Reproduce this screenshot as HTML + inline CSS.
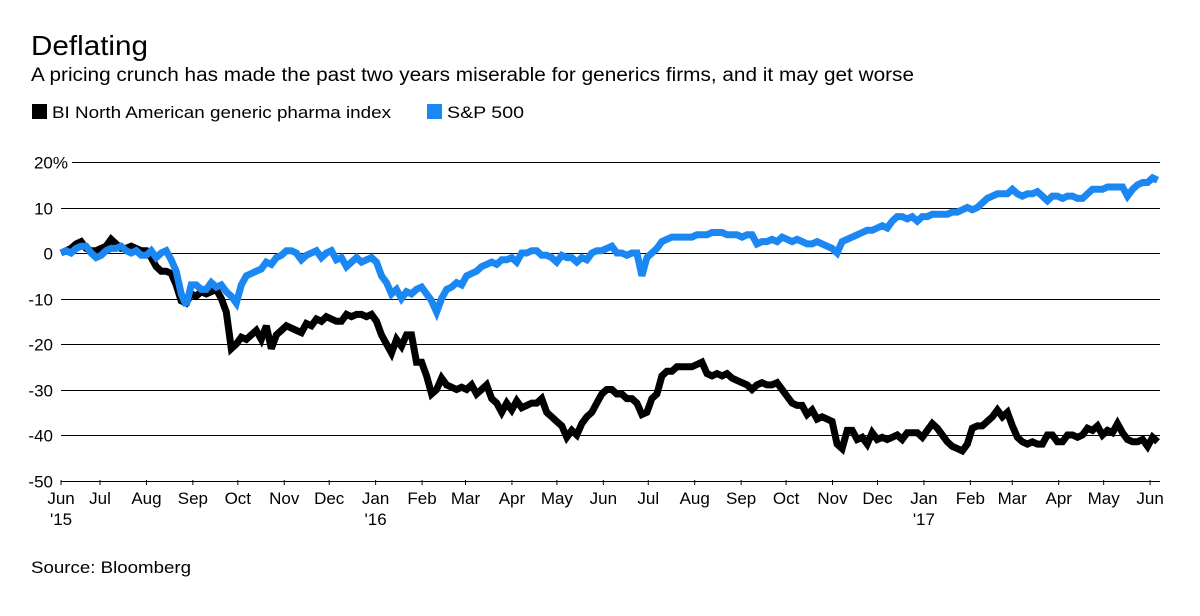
<!DOCTYPE html>
<html><head><meta charset="utf-8"><style>
body{margin:0;background:#fff;font-family:"Liberation Sans",sans-serif;}
svg text{font-family:"Liberation Sans",sans-serif;}
</style></head><body>
<svg id="chart" width="1200" height="611" viewBox="0 0 1200 611">
<text x="31" y="55" font-size="28" fill="#000" textLength="117" lengthAdjust="spacingAndGlyphs">Deflating</text>
<text x="31" y="81" font-size="19" fill="#000" textLength="883" lengthAdjust="spacingAndGlyphs">A pricing crunch has made the past two years miserable for generics firms, and it may get worse</text>
<g>
<rect x="32" y="104" width="15" height="15" fill="#000"/>
<text x="52" y="118" font-size="17" textLength="339" lengthAdjust="spacingAndGlyphs">BI North American generic pharma index</text>
<rect x="427" y="104" width="15" height="15" fill="#1b87f2"/>
<text x="447" y="118" font-size="17" textLength="77" lengthAdjust="spacingAndGlyphs">S&amp;P 500</text>
</g>
<g id="grid"></g><g id="series"></g><g id="xaxis"></g>
<text x="31" y="573" font-size="17" textLength="160" lengthAdjust="spacingAndGlyphs">Source: Bloomberg</text>
</svg>
<script>
const yTicks = [20, 10, 0, -10, -20, -30, -40, -50];
const yTickLabels = ["20%", "10", "0", "-10", "-20", "-30", "-40", "-50"];
const monthLabels = ["Jul","Aug","Sep","Oct","Nov","Dec","Jan","Feb","Mar","Apr","May","Jun","Jul","Aug","Sep","Oct","Nov","Dec","Jan","Feb","Mar","Apr","May","Jun"];
const startDate = "2015-06-05";
const endDate = "2017-06-06";
const pharma = [0,0.5,1,2,2.5,1,0.5,0.5,1,1.5,3,2,1,1,1.5,1,0.5,0.5,-1,-3,-4,-4,-4.5,-7,-10.5,-11,-9,-9.5,-8.5,-9,-8.5,-8,-10,-13,-21,-20,-18.5,-19,-18,-17,-19,-16,-21,-18,-17,-16,-16.5,-17,-17.5,-15.5,-16,-14.5,-15,-14,-14.5,-15,-15,-13.5,-14,-13.5,-13.5,-14,-13.5,-15,-18,-20,-22,-19,-20.5,-18,-18,-24,-24,-27,-31,-30,-27.5,-29,-29.5,-30,-29.5,-30,-29,-31,-30,-29,-32,-33,-35,-33,-34.5,-32.5,-34,-33.5,-33,-33,-32,-35,-36,-37,-38,-40.5,-39,-40,-37.5,-36,-35,-33,-31,-30,-30,-31,-31,-32,-32,-33,-35.5,-35,-32,-31,-27,-26,-26,-25,-25,-25,-25,-24.5,-24,-26.5,-27,-26.5,-27,-26.5,-27.5,-28,-28.5,-29,-30,-29,-28.5,-29,-29,-28.5,-30,-31.5,-33,-33.5,-33.5,-35.5,-34.5,-36.5,-36,-36.5,-37,-42,-43,-39,-39,-41,-40.5,-42,-39.5,-41,-40.5,-41,-40.5,-40,-41,-39.5,-39.5,-39.5,-40.5,-39,-37.5,-38.5,-40,-41.5,-42.5,-43,-43.5,-42,-38.5,-38,-38,-37,-36,-34.5,-36,-35,-38,-40.5,-41.5,-42,-41.5,-42,-42,-40,-40,-41.5,-41.5,-40,-40,-40.5,-40,-38.5,-39,-38,-40,-39,-39.5,-37.5,-39.5,-41,-41.5,-41.5,-41,-42.5,-40.5,-41.5];
const sp500 = [0,0.5,0,1,1.5,1.5,0,-1,-0.5,0.5,1,1,1.5,0.5,0,0.5,-0.5,-0.5,0.5,-1,0,0.5,-1.5,-4,-9,-11.5,-7,-7,-8,-8,-6.5,-7.5,-7,-8.5,-9.5,-11,-7,-5,-4.5,-4,-3.5,-2,-2.5,-1,-0.5,0.5,0.5,0,-1.5,-0.5,0,0.5,-1,0,0.5,-1.5,-1,-3,-2,-1,-2,-1.5,-1,-2,-5,-6.5,-9,-8,-10,-8.5,-9,-8,-7.5,-9,-10.5,-13,-10,-8,-7.5,-6.5,-7,-5,-4.5,-4,-3,-2.5,-2,-2.5,-1.5,-1.5,-1,-2,0,0,0.5,0.5,-0.5,-0.5,-1,-2,-0.5,-1,-1,-2,-1,-1.5,0,0.5,0.5,1,1.5,0,0,-0.5,0,0,-5,-1,0,1,2.5,3,3.5,3.5,3.5,3.5,3.5,4,4,4,4.5,4.5,4.5,4,4,4,3.5,4,4,2,2.5,2.5,3,2.5,3.5,3,2.5,3,2.5,2,2,2.5,2,1.5,1,0,2.5,3,3.5,4,4.5,5,5,5.5,6,5.5,7,8,8,7.5,8,7,8,8,8.5,8.5,8.5,8.5,9,9,9.5,10,9.5,10,11,12,12.5,13,13,13,14,13,12.5,13,13,13.5,12.5,11.5,12.5,12.5,12,12.5,12.5,12,12,13,14,14,14,14.5,14.5,14.5,14.5,12.5,14,15,15.5,15.5,16.5,16];

const NS = "http://www.w3.org/2000/svg";
const DAY = 86400000;
const refDate = Date.UTC(2015, 6, 1);
function xScale(t){ return 100 + (t - refDate) / DAY * 1.498; }
function yScale(v){ return 253 - v * 4.55; }
function mk(tag, attrs, parent){ const e = document.createElementNS(NS, tag); for (const k in attrs) e.setAttribute(k, attrs[k]); parent.appendChild(e); return e; }

const grid = document.getElementById('grid');
yTicks.forEach((v, i) => {
  const y = Math.round(yScale(v)) + 0.5;
  const gl = mk('line', {x1: i === 0 ? 72 : 61, x2: 1160, y1: y, y2: y, stroke: '#000', 'stroke-width': 1}, grid);
  
  
  const t = mk('text', {x: i === 0 ? 68 : 53, y: y + 6, 'font-size': 17, 'text-anchor': 'end'}, grid);
  t.textContent = yTickLabels[i];
  
  
});

const xa = document.getElementById('xaxis');
const x0 = xScale(Date.parse(startDate));
const firstTick = mk('line', {x1: x0, x2: x0, y1: 480, y2: 485, stroke: '#000'}, xa);


const fl = mk('text', {x: x0, y: 504, 'font-size': 17, 'text-anchor': 'middle'}, xa);
fl.textContent = 'Jun';


const fy = mk('text', {x: x0, y: 525, 'font-size': 17, 'text-anchor': 'middle'}, xa);
fy.textContent = "'15";


monthLabels.forEach((m, i) => {
  const d = Date.UTC(2015, 6 + i, 1);
  const x = xScale(d);
  const tk = mk('line', {x1: x, x2: x, y1: 480, y2: 485, stroke: '#000'}, xa);
  
  
  const t = mk('text', {x: x, y: 504, 'font-size': 17, 'text-anchor': 'middle'}, xa);
  t.textContent = m;
  
  
  if (m === 'Jan') {
    const yr = mk('text', {x: x, y: 525, 'font-size': 17, 'text-anchor': 'middle'}, xa);
    yr.textContent = "'" + String(new Date(d).getUTCFullYear()).slice(2);
    
    
  }
});

const sg = document.getElementById('series');
function drawSeries(vals, color, name){
  const s = Date.parse(startDate), e = Date.parse(endDate);
  const n = vals.length;
  const pts = vals.map((v, i) => xScale(s + (e - s) * i / (n - 1)).toFixed(1) + ',' + yScale(v).toFixed(1)).join(' ');
  const p = mk('polyline', {points: pts, fill: 'none', stroke: color, 'stroke-width': 7, 'stroke-linejoin': 'miter', 'stroke-miterlimit': 3}, sg);
  
  
}
drawSeries(pharma, '#000', 'generic-pharma-line');
drawSeries(sp500, '#1b87f2', 'sp500-line');
</script>
</body></html>
